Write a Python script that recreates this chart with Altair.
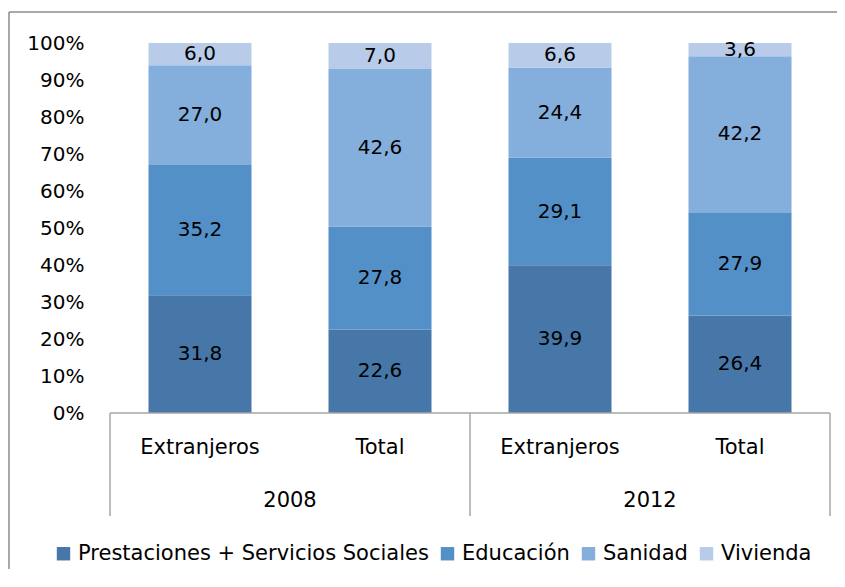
import altair as alt
import pandas as pd

groups = ["2008", "2008", "2012", "2012"]
cats = ["Extranjeros", "Total", "Extranjeros", "Total"]
series = ["Prestaciones + Servicios Sociales", "Educación", "Sanidad", "Vivienda"]
prest = [31.8, 22.6, 39.9, 26.4]
educ = [35.2, 27.8, 29.1, 27.9]
sani = [27.0, 42.6, 24.4, 42.2]
vivi = [6.0, 7.0, 6.6, 3.6]
colors = ["#4677A8", "#5490C8", "#84AEDB", "#B8CCE9"]

FONT = "DejaVu Sans"
FS = 20
FS2 = 21
rows = []
for si, vals in enumerate([prest, educ, sani, vivi]):
    for i, v in enumerate(vals):
        rows.append({"pos": i + 0.5, "serie": series[si], "order": si, "value": v,
                     "label": f"{v:.1f}".replace(".", ",")})
df = pd.DataFrame(rows)

cat_df = pd.DataFrame({"pos": [i + 0.5 for i in range(len(cats))], "cat": cats})
year_names = ["2008", "2012"]
year_df = pd.DataFrame({"pos": [1.0, 3.0], "year": year_names})
div_df = pd.DataFrame({"d": [0, 2, 4]})
one = pd.DataFrame({"a": [0], "b": [4]})

xs = alt.Scale(domain=[0, 4], nice=False, zero=False, padding=0)
yaxis = alt.Axis(values=[i / 10 for i in range(11)], format=".0%", title=None,
                 labelFontSize=FS, labelFont=FONT, labelColor="#000",
                 domain=False, ticks=False, grid=False, labelPadding=26)

bars = alt.Chart(df).mark_bar(size=103).encode(
    x=alt.X("pos:Q", scale=xs, axis=None),
    y=alt.Y("value:Q", stack="normalize", axis=yaxis),
    color=alt.Color("serie:N", scale=alt.Scale(domain=series, range=colors),
                    legend=alt.Legend(orient="none", legendX=-57, legendY=500,
                                      direction="horizontal", title=None,
                                      symbolType="square", symbolSize=180,
                                      symbolStrokeWidth=0, labelFontSize=FS2,
                                      labelFont=FONT, labelColor="#000",
                                      labelLimit=0, columnPadding=8,
                                      symbolOffset=0, labelOffset=4)),
    order=alt.Order("order:Q"),
)

texts = alt.Chart(df).transform_stack(
    stack="value", groupby=["pos"], as_=["v0", "v1"], offset="normalize",
    sort=[alt.SortField("order")]
).transform_calculate(mid="(datum.v0 + datum.v1) / 2").mark_text(
    fontSize=FS, font=FONT, color="#000"
).encode(
    x=alt.X("pos:Q", scale=xs, axis=None),
    y=alt.Y("mid:Q", axis=yaxis),
    text="label:N",
)

baseline = alt.Chart(one).mark_rule(color="#a6a6a6", strokeWidth=1.5).encode(
    x=alt.X("a:Q", scale=xs, axis=None), x2="b:Q", y=alt.value(370)
)
dividers = alt.Chart(div_df).mark_rule(color="#a6a6a6", strokeWidth=1.5).encode(
    x=alt.X("d:Q", scale=xs, axis=None), y=alt.value(370), y2=alt.value(473)
)
cat_text = alt.Chart(cat_df).mark_text(fontSize=FS2, font=FONT, color="#000").encode(
    x=alt.X("pos:Q", scale=xs, axis=None), y=alt.value(405), text="cat:N"
)
year_text = alt.Chart(year_df).mark_text(fontSize=FS2, font=FONT, color="#000").encode(
    x=alt.X("pos:Q", scale=xs, axis=None), y=alt.value(458), text="year:N"
)
# chart frame (only top and left edges fall inside the window)
frame_top = alt.Chart(one).mark_rule(stroke="#8c8c8c", strokeWidth=1.5).encode(
    x=alt.value(-101), x2=alt.value(727), y=alt.value(-31)
)
frame_left = alt.Chart(one).mark_rule(stroke="#8c8c8c", strokeWidth=1.5).encode(
    x=alt.value(-101), y=alt.value(-31), y2=alt.value(526)
)

chart = alt.layer(frame_top, frame_left, bars, texts, baseline, dividers,
                  cat_text, year_text).properties(
    width=720, height=370,
    autosize=alt.AutoSizeParams(type="none"),
    padding={"left": 102, "top": 35, "right": 7, "bottom": 156},
).configure_view(stroke=None)

chart.save("out.html", embed_options={"renderer": "svg", "actions": False})
